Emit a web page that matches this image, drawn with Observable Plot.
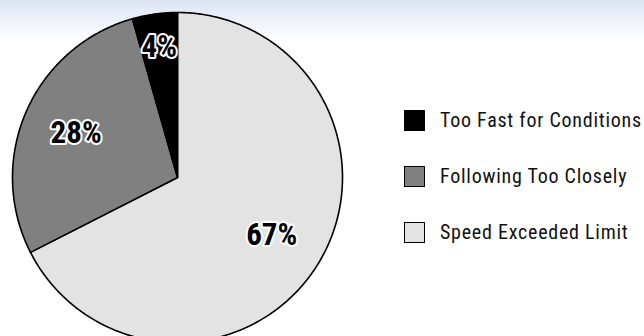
<!DOCTYPE html>
<html><head><meta charset="utf-8">
<script src="https://cdn.jsdelivr.net/npm/d3@7"></script>
<script src="https://cdn.jsdelivr.net/npm/@observablehq/plot@0.6"></script>
<style>
html,body{margin:0;padding:0;background:#fff;}
#wrap{position:relative;width:644px;height:336px;overflow:hidden;background:linear-gradient(#dce4f3 0px,#ffffff 40px);}
#wrap svg{position:absolute;left:0;top:0;}
#legend{position:absolute;left:404px;top:110px;font-family:"Roboto Condensed","Liberation Sans Narrow",Roboto,sans-serif;font-size:20px;letter-spacing:0.75px;color:#111;}
.row{display:flex;align-items:center;height:20px;margin-bottom:36px;white-space:nowrap;}
.sw{width:21px;height:21px;border:1.6px solid #000;box-sizing:border-box;margin-right:15px;flex:none;}
</style>
</head><body>
<div id="wrap"><div id="legend"></div></div>
<script>
const categories = ["Speed Exceeded Limit", "Following Too Closely", "Too Fast for Conditions"];
const values = [67.5, 28.1, 4.4];
const labels = ["67%", "28%", "4%"];
const colors = ["#e3e3e3", "#808080", "#000000"];
const legendOrder = ["Too Fast for Conditions", "Following Too Closely", "Speed Exceeded Limit"];

const total = d3.sum(values);
let acc = 0;
const slices = categories.map((c, i) => {
  const a0 = acc / total * 2 * Math.PI;
  acc += values[i];
  const a1 = acc / total * 2 * Math.PI;
  return {cat: c, a0, a1, color: colors[i], label: labels[i]};
});
const pts = [];
for (const s of slices) {
  pts.push({cat: s.cat, color: s.color, x: 0, y: 0});
  const n = Math.max(2, Math.ceil((s.a1 - s.a0) / (Math.PI / 360)));
  for (let k = 0; k <= n; k++) {
    const a = s.a0 + (s.a1 - s.a0) * k / n;
    pts.push({cat: s.cat, color: s.color, x: Math.sin(a), y: Math.cos(a)});
  }
}
// small slices get their label further out, like a "best fit" placement
const labelPts = slices.map(s => {
  const m = (s.a0 + s.a1) / 2;
  const frac = (s.a1 - s.a0) / (2 * Math.PI);
  const r = frac < 0.1 ? 0.8 : 0.67;
  return {text: s.label, x: r * Math.sin(m), y: r * Math.cos(m)};
});

const R = 165;
const chart = Plot.plot({
  width: 644, height: 336,
  marginLeft: 12, marginRight: 644 - 12 - 2 * R, marginTop: 12, marginBottom: 0,
  x: {domain: [-1, 1], axis: null},
  y: {domain: [1 - 324 / R, 1], axis: null},
  style: {background: "transparent", overflow: "visible"},
  marks: [
    Plot.line(pts, {x: "x", y: "y", z: "cat", fill: "color", stroke: "#000", strokeWidth: 1.6, curve: "linear-closed", strokeLinejoin: "round"}),
    Plot.text(labelPts, {x: "x", y: "y", text: "text", fontSize: 31, fontWeight: "bold",
      fontFamily: "'Roboto Condensed','Liberation Sans Narrow',Roboto,sans-serif",
      fill: "#000", stroke: "#fff", strokeWidth: 4, paintOrder: "stroke"})
  ]
});
document.getElementById("wrap").prepend(chart);

const lg = document.getElementById("legend");
for (const name of legendOrder) {
  const i = categories.indexOf(name);
  const row = document.createElement("div");
  row.className = "row";
  const sw = document.createElement("div");
  sw.className = "sw";
  sw.style.background = colors[i];
  const t = document.createElement("span");
  t.textContent = name;
  row.append(sw, t);
  lg.append(row);
}
</script>
</body></html>
